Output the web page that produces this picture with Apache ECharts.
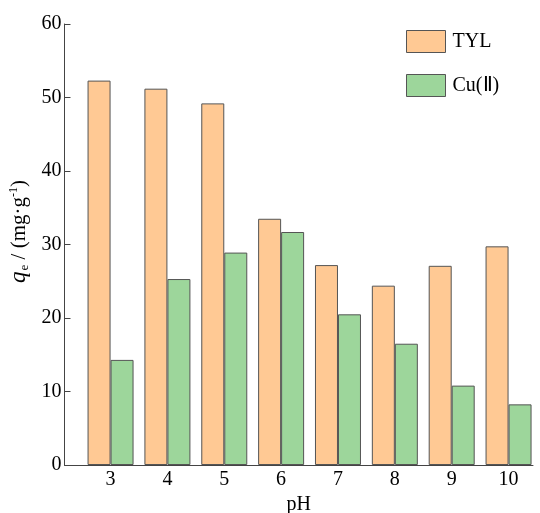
<!DOCTYPE html>
<html>
<head>
<meta charset="utf-8">
<script src="https://cdn.jsdelivr.net/npm/echarts@6/dist/echarts.min.js"></script>
<style>
html,body{margin:0;padding:0;background:#fff;}
#chart{width:540px;height:513px;}
</style>
</head>
<body>
<div id="chart"></div>
<script>
// pH values and adsorption capacities
var phList = [3, 4, 5, 6, 7, 8, 9, 10];
var tylVals = [52.3, 51.2, 49.2, 33.5, 27.2, 24.4, 27.1, 29.75];
var cuVals = [14.3, 25.3, 28.9, 31.7, 20.5, 16.5, 10.8, 8.25];
var yTicks = [0, 10, 20, 30, 40, 50, 60];

function pairs(xs, ys) {
    var out = [];
    for (var i = 0; i < xs.length; i++) {
        out.push([xs[i], ys[i]]);
    }
    return out;
}

var font = 'Liberation Serif';
var chart = echarts.init(document.getElementById('chart'));
chart.setOption({
    animation: false,
    grid: {left: 64.5, right: 7, top: 24, bottom: 48, containLabel: false, outerBoundsMode: 'none'},
    legend: {
        left: 406, top: 30, orient: 'vertical', padding: 0,
        itemWidth: 39, itemHeight: 22, itemGap: 21,
        icon: 'rect',
        textStyle: {fontFamily: font, fontSize: 20, color: '#000', padding: [0, 0, 0, 2]},
        itemStyle: {borderColor: '#555', borderWidth: 1}
    },
    xAxis: {
        type: 'value', min: 2.19, max: 10.43,
        minInterval: 1, maxInterval: 1,
        name: 'pH', nameLocation: 'middle', nameGap: 29,
        nameTextStyle: {fontFamily: font, fontSize: 20, color: '#000'},
        axisLine: {onZero: false, lineStyle: {color: '#444', width: 1}},
        axisTick: {show: false},
        splitLine: {show: false},
        axisLabel: {
            fontFamily: font, fontSize: 20, color: '#000', margin: 5,
            formatter: function (v) { return phList.indexOf(v) >= 0 ? String(v) : ''; }
        }
    },
    yAxis: {
        type: 'value', min: yTicks[0], max: yTicks[yTicks.length - 1], interval: 10,
        name: '{q|q}{sub|e}{t| / (mg·g}{sup|-1}{t|)}',
        nameLocation: 'middle', nameRotate: 90, nameGap: 33,
        nameTextStyle: {
            fontFamily: font, fontSize: 21, color: '#000', padding: [0, 0, 0, 26],
            rich: {
                q: {fontFamily: font, fontSize: 23, fontStyle: 'italic', color: '#000'},
                sub: {fontFamily: font, fontSize: 13, color: '#000', verticalAlign: 'bottom', padding: [9, 0, 0, 1]},
                t: {fontFamily: font, fontSize: 21, color: '#000'},
                sup: {fontFamily: font, fontSize: 12, color: '#000', verticalAlign: 'top', padding: [0, 0, 9, 0]}
            }
        },
        axisLine: {show: true, lineStyle: {color: '#444', width: 1}},
        axisTick: {show: true, inside: true, length: 6, lineStyle: {color: '#444'}},
        splitLine: {show: false},
        axisLabel: {fontFamily: font, fontSize: 20, color: '#000', margin: 3}
    },
    series: [
        {
            name: 'TYL', type: 'bar', barWidth: 23, barGap: '0%',
            itemStyle: {color: '#FFC994', borderColor: '#555', borderWidth: 1},
            data: pairs(phList, tylVals)
        },
        {
            name: 'Cu(Ⅱ)', type: 'bar', barWidth: 23, barGap: '0%',
            itemStyle: {color: '#9DD69B', borderColor: '#555', borderWidth: 1},
            data: pairs(phList, cuVals)
        }
    ]
});
</script>
</body>
</html>
